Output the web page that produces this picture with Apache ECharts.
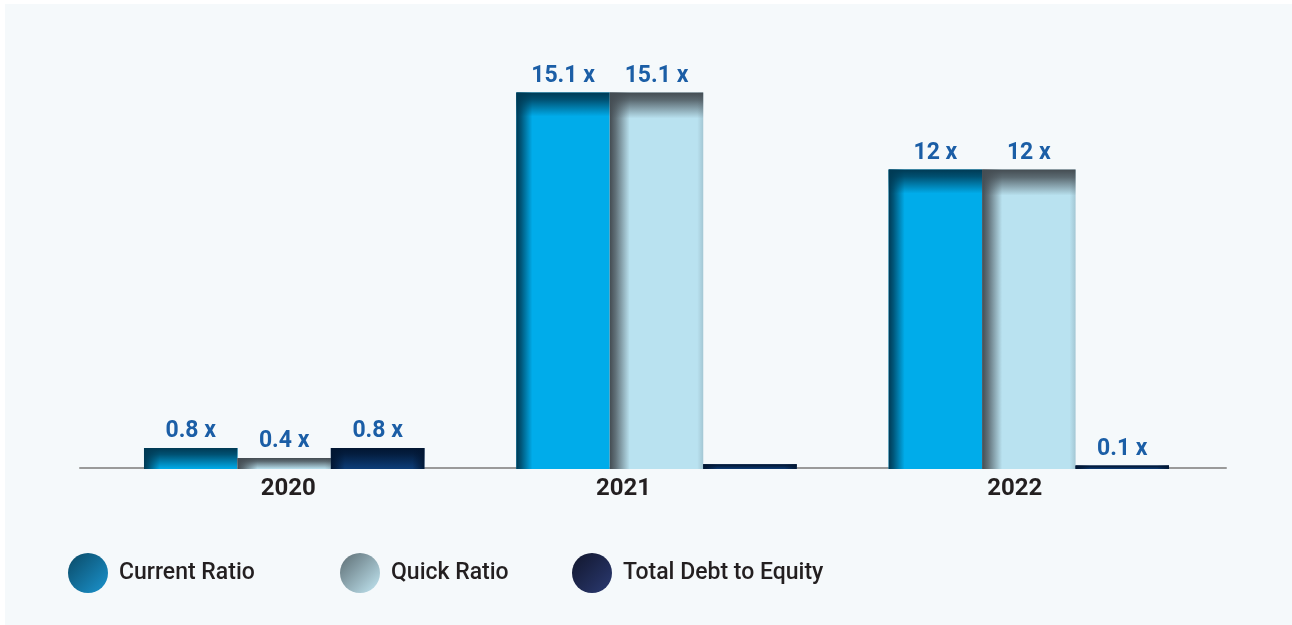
<!DOCTYPE html>
<html>
<head>
<meta charset="utf-8">
<title>Liquidity and Leverage Ratios</title>
<script src="https://cdn.jsdelivr.net/npm/echarts@6/dist/echarts.min.js"></script>
<style>
  html, body { margin: 0; padding: 0; background: #ffffff; }
  #chart { width: 1292px; height: 625px; }
</style>
</head>
<body>
<div id="chart"></div>
<script>
// Ratio values per fiscal year
const years = ['2020', '2021', '2022'];
const currentRatio = [0.8, 15.1, 12];
const quickRatio = [0.4, 15.1, 12];
const debtToEquity = [0.8, 0.15, 0.1];
const seriesNames = ['Current Ratio', 'Quick Ratio', 'Total Debt to Equity'];
// Bars that carry no value label
const unlabeled = { 'Total Debt to Equity': ['2021'] };

const BAR_RATIO = 0.251;          // share of a category band taken by one bar
const LABEL_COLOR = '#1b5ea6';
const TEXT_COLOR = '#231f20';

// Fill and inner-shade settings for each series
const looks = [
  { base: '#00acea', shade: '0,58,84',  top: 24, left: 16, right: 0,  rightAlpha: 0 },
  { base: '#b9e2f0', shade: '68,76,82', top: 26, left: 20, right: 6,  rightAlpha: 0.18 },
  { base: '#0c3c76', shade: '2,22,50',  top: 20, left: 14, right: 12, rightAlpha: 0.9 }
];

function rgba(rgb, a) { return 'rgba(' + rgb + ',' + a + ')'; }

function barRenderer(idx) {
  const look = looks[idx];
  const name = seriesNames[idx];
  const skip = unlabeled[name] || [];
  return function (params, api) {
    const cat = api.value(0);
    const val = api.value(1);
    const topPt = api.coord([cat, val]);
    const basePt = api.coord([cat, 0]);
    const band = api.size([1, 0])[0];
    const w = band * BAR_RATIO;
    const cx = topPt[0] + (idx - 1) * w;
    const x = cx - w / 2;
    const y = topPt[1];
    const h = basePt[1] - topPt[1] + 1;
    const G = echarts.graphic.LinearGradient;
    const children = [
      { type: 'rect', shape: { x: x, y: y, width: w, height: h },
        style: { fill: look.base } },
      { type: 'rect', shape: { x: x, y: y, width: look.left, height: h },
        style: { fill: new G(0, 0, 1, 0, [
          { offset: 0, color: rgba(look.shade, 1) },
          { offset: 0.3, color: rgba(look.shade, 0.75) },
          { offset: 1, color: rgba(look.shade, 0) }]) } },
      { type: 'rect', shape: { x: x, y: y, width: w, height: Math.min(look.top, h) },
        style: { fill: new G(0, 0, 0, 1, [
          { offset: 0, color: rgba(look.shade, 1) },
          { offset: 0.3, color: rgba(look.shade, 0.8) },
          { offset: 1, color: rgba(look.shade, 0) }]) } }
    ];
    if (look.right > 0) {
      children.push({ type: 'rect',
        shape: { x: x + w - look.right, y: y, width: look.right, height: h },
        style: { fill: new G(1, 0, 0, 0, [
          { offset: 0, color: rgba(look.shade, look.rightAlpha) },
          { offset: 1, color: rgba(look.shade, 0) }]) } });
    }
    if (skip.indexOf(years[cat]) < 0) {
      children.push({ type: 'text',
        style: { text: val + ' x', x: cx, y: y - 5, align: 'center', verticalAlign: 'bottom',
          fill: LABEL_COLOR, font: 'bold 23px Roboto, "DejaVu Sans", sans-serif' } });
    }
    return { type: 'group', children: children };
  };
}

const seriesValues = [currentRatio, quickRatio, debtToEquity];

const legendSwatches = [
  ['#0a4965', '#1b94cf'],
  ['#5c6c72', '#c3e8f4'],
  ['#11162c', '#2b3a72']
];
const legendLefts = [68, 340, 572];

const chart = echarts.init(document.getElementById('chart'), null, { renderer: 'canvas' });

const labelFont = { fontFamily: 'Roboto, "DejaVu Sans", sans-serif', fontSize: 24, fontWeight: 'bold', color: TEXT_COLOR };

chart.setOption({
  backgroundColor: 'transparent',
  animation: false,
  graphic: [{
    type: 'rect', z: -10, silent: true,
    shape: { x: 5, y: 4, width: 1287, height: 621 },
    style: { fill: '#f5f9fb' }
  }],
  legend: seriesNames.map(function (n, i) {
    return {
      left: legendLefts[i], top: 553, padding: 0,
      itemWidth: 40, itemHeight: 40, icon: 'circle',
      selectedMode: false,
      textStyle: { fontFamily: 'Roboto, "DejaVu Sans", sans-serif', fontSize: 23, fontWeight: 500,
        color: TEXT_COLOR, padding: [0, 0, 0, 6] },
      data: [{ name: n, itemStyle: { color: new echarts.graphic.LinearGradient(0, 0, 1, 1, [
        { offset: 0, color: legendSwatches[i][0] },
        { offset: 1, color: legendSwatches[i][1] }]) } }]
    };
  }),
  grid: [
    { left: 98, right: 77, top: 70, bottom: 157 },
    { left: 80, right: 66, top: 70, bottom: 157 }
  ],
  xAxis: [
    { type: 'category', gridIndex: 0, data: years,
      axisLine: { show: false }, axisTick: { show: false },
      axisLabel: {
        margin: 9,
        formatter: function (v) { return '{y' + v + '|' + v + '}'; },
        rich: {
          y2020: Object.assign({ padding: [0, 0, 0, 8] }, labelFont),
          y2021: Object.assign({ padding: [0, 66, 0, 0] }, labelFont),
          y2022: Object.assign({ padding: [0, 28, 0, 0] }, labelFont)
        }
      } },
    { type: 'category', gridIndex: 1, data: years,
      axisLine: { show: true, lineStyle: { color: '#9a9a9a', width: 2 } },
      axisTick: { show: false }, axisLabel: { show: false } }
  ],
  yAxis: [
    { type: 'value', gridIndex: 0, min: 0, max: 16, show: false, splitLine: { show: false } },
    { type: 'value', gridIndex: 1, min: 0, max: 16, show: false, splitLine: { show: false } }
  ],
  series: seriesNames.map(function (n, i) {
    return {
      type: 'custom', name: n, xAxisIndex: 0, yAxisIndex: 0, z: 3,
      itemStyle: { color: looks[i].base },
      encode: { x: 0, y: 1 },
      data: seriesValues[i].map(function (v, k) { return [k, v]; }),
      renderItem: barRenderer(i)
    };
  })
});
</script>
</body>
</html>
